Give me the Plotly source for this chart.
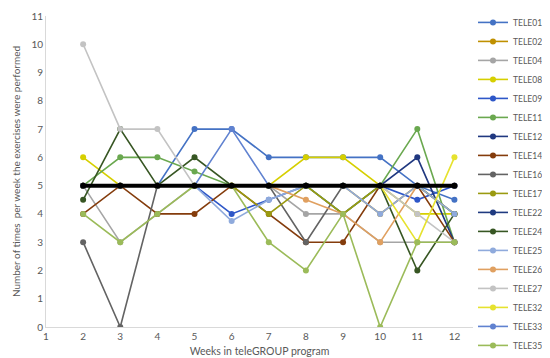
import plotly.graph_objects as go

weeks = [2, 3, 4, 5, 6, 7, 8, 9, 10, 11, 12]
names = ["TELE01", "TELE02", "TELE04", "TELE08", "TELE09", "TELE11", "TELE12", "TELE14", "TELE16",
         "TELE17", "TELE22", "TELE24", "TELE25", "TELE26", "TELE27", "TELE32", "TELE33", "TELE35"]

tele01 = [5, 5, 5, 7, 7, 6, 6, 6, 6, 5, 4.5]
tele02 = [5, 5, 5, 5, 5, 5, 5, 5, 4, 5, 5]
tele04 = [5, 3, 4, 5, 5, 5, 4, 4, 3, 3, 3]
tele08 = [6, 5, 5, 5, 5, 5, 6, 6, 5, 4, 4]
tele09 = [5, 5, 5, 5, 4, 4.5, 5, 4, 5, 4.5, 5]
tele11 = [5, 6, 6, 5.5, 5, 5, 5, 4, 5, 7, 3]
tele12 = [5, 5, 5, 5, 5, 5, 5, 5, 5, 6, 3]
tele14 = [4, 5, 4, 4, 5, 4, 3, 3, 5, 5, 3]
tele16 = [3, 0, 5, 5, 5, 5, 3, 5, 5, 5, 4]
tele17 = [5, 5, 5, 5, 5, 4, 5, 4, 5, 5, 4]
tele22 = [5, 5, 5, 5, 5, 5, 5, 5, 5, 5, 5]
tele24 = [4.5, 7, 5, 6, 5, 5, 5, 5, 5, 2, 4]
tele25 = [5, 5, 5, 5, 3.75, 4.5, 5, 5, 4, 5, 4]
tele26 = [5, 5, 5, 5, 5, 5, 4.5, 4, 3, 5, 5]
tele27 = [10, 7, 7, 5, 5, 5, 5, 5, 5, 4, 3]
tele32 = [5, 5, 5, 5, 5, 5, 5, 5, 5, 3, 6]
tele33 = [5, 5, 5, 5, 7, 5, 5, 5, 5, 5, 5]
tele35 = [4, 3, 4, 5, 5, 3, 2, 4, 0, 3, 3]
target = [5, 5, 5, 5, 5, 5, 5, 5, 5, 5, 5]

series = [tele01, tele02, tele04, tele08, tele09, tele11, tele12, tele14, tele16,
          tele17, tele22, tele24, tele25, tele26, tele27, tele32, tele33, tele35]
colors = ["#4472C4", "#BF9000", "#A5A5A5", "#D6CF00", "#2E57C8", "#6AA84F", "#203880", "#843C0C",
          "#636363", "#9A9A10", "#1F3A80", "#375623", "#8FAADC", "#E0A060", "#C3C3C3", "#E6E22E",
          "#6082D0", "#9BBB59"]

fig = go.Figure()
for n, s, c in zip(names, series, colors):
    fig.add_trace(go.Scatter(x=weeks, y=s, name=n, mode="lines+markers",
                             line=dict(color=c, width=1.6),
                             marker=dict(color=c, size=6)))
fig.add_trace(go.Scatter(x=weeks, y=target, name="Target", mode="lines+markers", showlegend=False,
                         line=dict(color="black", width=4), marker=dict(color="black", size=6)))

fig.update_layout(
    width=550, height=358,
    margin=dict(l=38, r=85, t=8, b=39, autoexpand=False),
    paper_bgcolor="white", plot_bgcolor="white",
    font=dict(family="Lato, Liberation Sans, sans-serif", color="#595959", size=10),
    legend=dict(x=1.0, xanchor="left", y=1.026, yanchor="top", maxheight=400,
                font=dict(size=8.5, color="#595959"),
                tracegroupgap=0, itemwidth=30, bgcolor="rgba(0,0,0,0)"),
    xaxis=dict(range=[1, 12.5], tickmode="array", tickvals=list(range(1, 13)), showgrid=False,
               zeroline=False, showline=True, linecolor="#D9D9D9", linewidth=1,
               tickfont=dict(size=10, color="#595959"), ticks="",
               title=dict(text="Weeks in teleGROUP program", font=dict(size=10.5, color="#595959"), standoff=6)),
    yaxis=dict(range=[0, 11], tickmode="array", tickvals=list(range(0, 12)), showgrid=False,
               zeroline=False, showline=True, linecolor="#D9D9D9", linewidth=1,
               tickfont=dict(size=10, color="#595959"), ticks="",
               title=dict(text="Number of times  per week the exercises were performed",
                          font=dict(size=10, color="#595959"), standoff=8)),
)
fig.write_html("out.html")
